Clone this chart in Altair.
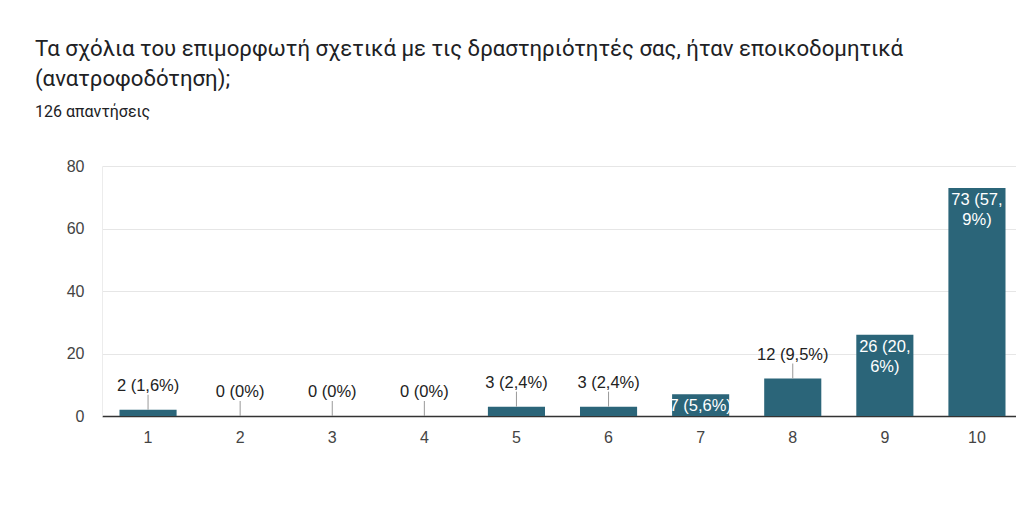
import altair as alt
import pandas as pd

categories = ["1", "2", "3", "4", "5", "6", "7", "8", "9", "10"]
counts = [2, 0, 0, 0, 3, 3, 7, 12, 26, 73]
labels = ["2 (1,6%)", "0 (0%)", "0 (0%)", "0 (0%)", "3 (2,4%)", "3 (2,4%)",
          "7 (5,6%)", "12 (9,5%)", "26 (20,\n6%)", "73 (57,\n9%)"]
inside = [False, False, False, False, False, False, True, False, True, True]

df = pd.DataFrame({"cat": categories, "n": counts, "label": labels, "inside": inside})

x_scale = alt.Scale(paddingInner=0.38, paddingOuter=0.19, range=[0, 921])
x_enc = alt.X("cat:N", sort=categories, scale=x_scale,
              axis=alt.Axis(title=None, labelAngle=0, labelFontSize=16, labelColor="#444444",
                            labelFont="Liberation Sans", labelPadding=13, ticks=False,
                            domainColor="#333333", domainWidth=1.5))
y_scale = alt.Scale(domain=[0, 80], nice=False)

base = alt.Chart(df)

bars = base.mark_bar(color="#2b6579").encode(
    x=x_enc,
    y=alt.Y("n:Q", scale=y_scale,
            axis=alt.Axis(title=None, values=list(range(0, 81, 10)),
                          labelExpr="datum.value % 20 == 0 ? datum.label : ''",
                          labelFontSize=16, labelColor="#444444", labelFont="Liberation Sans",
                          labelPadding=18, ticks=False, domain=True, domainColor="#ececec",
                          gridColor={"condition": {"test": "datum.value % 20 == 0", "value": "#e6e6e6"},
                                     "value": "#f3f3f3"})),
)

outside_df = base.transform_filter("!datum.inside")

leaders = outside_df.mark_rule(color="#999999", strokeWidth=1, y2Offset=-15).encode(
    x=alt.X("cat:N", sort=categories),
    y=alt.Y("n:Q", scale=y_scale),
    y2="n:Q",
)

out_text = outside_df.mark_text(dy=-24, baseline="middle", fontSize=16.5, color="#222222",
                                font="Liberation Sans").encode(
    x=alt.X("cat:N", sort=categories),
    y=alt.Y("n:Q", scale=y_scale),
    text="label:N",
)

in_text = base.transform_filter("datum.inside").mark_text(
    dy=4, baseline="top", fontSize=16.5, color="white", font="Liberation Sans",
    lineBreak="\n", lineHeight=20).encode(
    x=alt.X("cat:N", sort=categories),
    y=alt.Y("n:Q", scale=y_scale),
    text="label:N",
)

chart = alt.layer(bars, leaders, out_text, in_text).properties(
    width=914, height=250,
    autosize=alt.AutoSizeParams(type="none"),
    padding={"left": 94, "top": 158, "right": 0, "bottom": 90},
    title=alt.TitleParams(
        text=["Τα σχόλια του επιμορφωτή σχετικά με τις δραστηριότητές σας, ήταν εποικοδομητικά",
              "(ανατροφοδότηση);"],
        subtitle="126 απαντήσεις",
        anchor="start", frame="group", dx=-67, font="Roboto", fontSize=22.2, fontWeight="normal",
        color="#202124", lineHeight=30, subtitleFont="Roboto", subtitleFontSize=16,
        subtitleColor="#202124", subtitlePadding=14, offset=38,
    ),
).configure_view(stroke=None)

chart.save("out.html", embed_options={"renderer": "svg", "actions": False})
